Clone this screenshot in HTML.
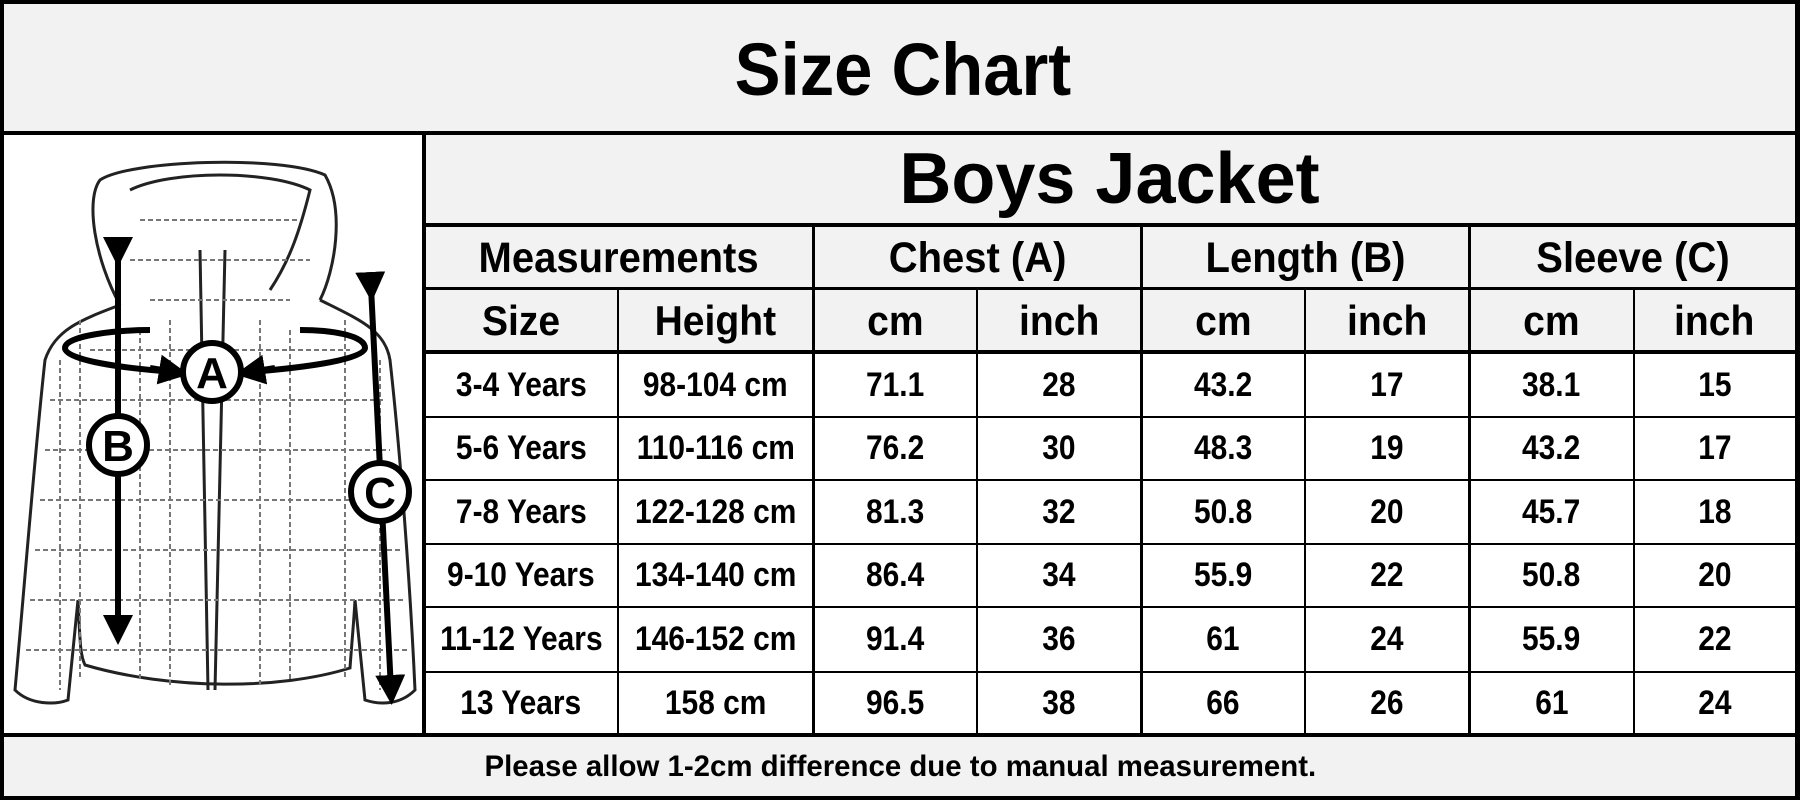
<!DOCTYPE html>
<html><head><meta charset="utf-8"><style>
body{margin:0;width:1800px;height:800px;background:#fff;overflow:hidden;font-family:"Liberation Sans",sans-serif;font-weight:bold;color:#000}
.a{position:absolute}
.t{position:absolute;display:flex;align-items:center;justify-content:center;white-space:nowrap}
.t span{display:inline-block;transform:scaleX(0.93)}
.h{background:#000;position:absolute}
</style></head><body>
<div class="a" style="left:0;top:0;width:1800px;height:800px;background:#f2f2f2"></div>
<div class="a" style="left:4px;top:135px;width:418px;height:600px;background:#fff"></div>
<div class="a" style="left:424px;top:352px;width:1371px;height:383px;background:#fff"></div>

<svg class="a" style="left:0;top:0" width="424" height="740" viewBox="0 0 424 740">
<defs><marker id="ah" markerWidth="5" markerHeight="5" refX="2.5" refY="2.5" orient="auto"><path d="M0,0 L5,2.5 L0,5 z" fill="#000"/></marker></defs>
<g fill="none" stroke="#222" stroke-width="3">
<path d="M120,305 C95,260 85,200 100,180 C130,160 280,155 325,175 C345,210 335,270 320,300"/>
<path d="M130,190 C170,170 270,170 310,190 C300,230 290,260 270,290"/>
<path d="M120,305 C80,320 55,330 45,360 C35,450 25,580 15,690 C30,705 55,705 68,700 L78,600"/>
<path d="M320,300 C360,320 385,330 390,360 C400,450 410,580 415,690 C400,705 380,705 365,700 L355,600"/>
<path d="M78,600 C80,640 80,655 85,665 C170,690 280,690 350,668 C352,640 354,620 355,600"/>
<path d="M200,250 L208,690 M225,250 L215,690"/>
</g>
<g fill="none" stroke="#777" stroke-width="2" stroke-dasharray="5 3">
<path d="M50,400 H385 M45,450 H390 M40,500 H395 M35,550 H400 M30,600 H405 M26,650 H410 M90,350 H350"/>
<path d="M80,320 V680 M140,330 V680 M170,320 V685 M260,320 V685 M290,330 V680 M345,320 V680 M60,360 V690 M380,360 V690"/>
<path d="M140,220 H300 M130,260 H310 M150,300 H290"/>
</g>
<g stroke="#000" stroke-width="6" fill="none">
<line x1="118" y1="252" x2="118" y2="630" marker-start="url(#ah)" marker-end="url(#ah)"/>
<line x1="371" y1="287" x2="391" y2="690" marker-start="url(#ah)" marker-end="url(#ah)"/>
<path d="M175,372 C120,368 65,360 65,348 C65,335 120,330 150,330"/>
<path d="M250,372 C300,368 365,360 365,348 C365,335 330,330 300,330"/>
<line x1="150" y1="368" x2="174" y2="372" marker-end="url(#ah)"/>
<line x1="275" y1="368" x2="250" y2="372" marker-end="url(#ah)"/>
</g>
<g stroke="#000" stroke-width="6" fill="#fff">
<circle cx="212" cy="372" r="29"/><circle cx="118" cy="445" r="29"/><circle cx="380" cy="492" r="29"/>
</g>
<g font-family="Liberation Sans" font-weight="bold" font-size="44" text-anchor="middle">
<text x="212" y="388">A</text><text x="118" y="461">B</text><text x="380" y="508">C</text>
</g>
</svg>

<div class="h" style="left:0;top:0;width:1800px;height:4px"></div>
<div class="h" style="left:0;top:796px;width:1800px;height:4px"></div>
<div class="h" style="left:0;top:0;width:4px;height:800px"></div>
<div class="h" style="left:1795px;top:0;width:5px;height:800px"></div>
<div class="h" style="left:0;top:131px;width:1800px;height:4px"></div>
<div class="h" style="left:0;top:733px;width:1800px;height:4px"></div>
<div class="h" style="left:422px;top:223px;width:1378px;height:4px"></div>
<div class="h" style="left:422px;top:287px;width:1378px;height:3px"></div>
<div class="h" style="left:422px;top:350px;width:1378px;height:4px"></div>
<div class="h" style="left:422px;top:416px;width:1378px;height:2px"></div>
<div class="h" style="left:422px;top:479px;width:1378px;height:2px"></div>
<div class="h" style="left:422px;top:543px;width:1378px;height:2px"></div>
<div class="h" style="left:422px;top:606px;width:1378px;height:2px"></div>
<div class="h" style="left:422px;top:671px;width:1378px;height:2px"></div>
<div class="h" style="left:422px;top:133px;width:4px;height:602px"></div>
<div class="h" style="left:812px;top:225px;width:3px;height:510px"></div>
<div class="h" style="left:1140px;top:225px;width:3px;height:510px"></div>
<div class="h" style="left:1468px;top:225px;width:3px;height:510px"></div>
<div class="h" style="left:617px;top:289px;width:2px;height:446px"></div>
<div class="h" style="left:976px;top:289px;width:2px;height:446px"></div>
<div class="h" style="left:1304px;top:289px;width:2px;height:446px"></div>
<div class="h" style="left:1633px;top:289px;width:2px;height:446px"></div>

<div class="t" style="left:0;top:4px;width:1800px;height:130px;font-size:74px;padding-left:6px;box-sizing:border-box"><span>Size Chart</span></div>
<div class="t" style="left:424px;top:133px;width:1371px;height:92px;font-size:72px"><span style="transform:none">Boys Jacket</span></div>
<div class="t" style="left:4px;top:737px;width:1792px;height:60px;font-size:30px"><span style="transform:scaleX(0.98)">Please allow 1-2cm difference due to manual measurement.</span></div>

<div class="t" style="left:424px;top:227px;width:389px;height:62px;font-size:43px"><span>Measurements</span></div>
<div class="t" style="left:814px;top:227px;width:327px;height:62px;font-size:43px"><span>Chest (A)</span></div>
<div class="t" style="left:1142px;top:227px;width:327px;height:62px;font-size:43px"><span>Length (B)</span></div>
<div class="t" style="left:1470px;top:227px;width:325px;height:62px;font-size:43px"><span>Sleeve (C)</span></div>

<div class="t" style="left:424px;top:290px;width:194px;height:62px;font-size:42px"><span>Size</span></div>
<div class="t" style="left:618px;top:290px;width:195px;height:62px;font-size:42px"><span>Height</span></div>
<div class="t" style="left:813px;top:290px;width:164px;height:62px;font-size:42px"><span>cm</span></div>
<div class="t" style="left:977px;top:290px;width:164px;height:62px;font-size:42px"><span>inch</span></div>
<div class="t" style="left:1141px;top:290px;width:164px;height:62px;font-size:42px"><span>cm</span></div>
<div class="t" style="left:1305px;top:290px;width:164px;height:62px;font-size:42px"><span>inch</span></div>
<div class="t" style="left:1469px;top:290px;width:165px;height:62px;font-size:42px"><span>cm</span></div>
<div class="t" style="left:1634px;top:290px;width:161px;height:62px;font-size:42px"><span>inch</span></div>

<div style="position:absolute;left:424px;top:354px;width:1371px;font-size:34px">
<style>
.r{display:grid;grid-template-columns:194px 195px 164px 164px 164px 164px 165px 161px}
.r div{display:flex;align-items:center;justify-content:center;white-space:nowrap}
.r div span{display:inline-block;transform:scaleX(0.88)}
</style>
<div class="r" style="height:63px"><div><span>3-4 Years</span></div><div><span>98-104 cm</span></div><div><span>71.1</span></div><div><span>28</span></div><div><span>43.2</span></div><div><span>17</span></div><div><span>38.1</span></div><div><span>15</span></div></div>
<div class="r" style="height:63px"><div><span>5-6 Years</span></div><div><span>110-116 cm</span></div><div><span>76.2</span></div><div><span>30</span></div><div><span>48.3</span></div><div><span>19</span></div><div><span>43.2</span></div><div><span>17</span></div></div>
<div class="r" style="height:64px"><div><span>7-8 Years</span></div><div><span>122-128 cm</span></div><div><span>81.3</span></div><div><span>32</span></div><div><span>50.8</span></div><div><span>20</span></div><div><span>45.7</span></div><div><span>18</span></div></div>
<div class="r" style="height:63px"><div><span>9-10 Years</span></div><div><span>134-140 cm</span></div><div><span>86.4</span></div><div><span>34</span></div><div><span>55.9</span></div><div><span>22</span></div><div><span>50.8</span></div><div><span>20</span></div></div>
<div class="r" style="height:65px"><div><span>11-12 Years</span></div><div><span>146-152 cm</span></div><div><span>91.4</span></div><div><span>36</span></div><div><span>61</span></div><div><span>24</span></div><div><span>55.9</span></div><div><span>22</span></div></div>
<div class="r" style="height:62px"><div><span>13 Years</span></div><div><span>158 cm</span></div><div><span>96.5</span></div><div><span>38</span></div><div><span>66</span></div><div><span>26</span></div><div><span>61</span></div><div><span>24</span></div></div>
</div>
</body></html>
